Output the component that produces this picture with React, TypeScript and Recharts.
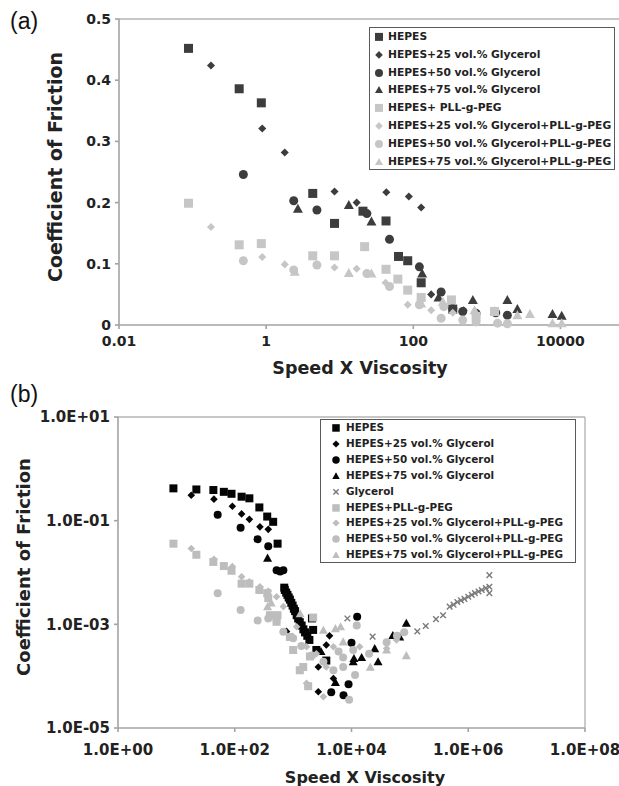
import React from 'react';
import { ScatterChart, Scatter, XAxis, YAxis, ReferenceLine, Legend } from 'recharts';

// ---------- panel (a): linear friction vs log speed*viscosity ----------
const hepesA = [[0.088, 0.452], [0.43, 0.386], [0.86, 0.363], [4.3, 0.215], [8.5, 0.166], [20.7, 0.186], [42.6, 0.17], [63, 0.112], [84, 0.105], [128, 0.069], [344, 0.026]];
const hepes25A = [[0.178, 0.424], [0.885, 0.321], [1.79, 0.282], [8.5, 0.218], [17, 0.2], [43, 0.217], [87, 0.21], [128, 0.192], [175, 0.05], [484, 0.024]];
const hepes50A = [[0.49, 0.246], [2.37, 0.203], [4.9, 0.188], [23.4, 0.182], [47.5, 0.14], [121, 0.095], [239, 0.054], [344, 0.027], [470, 0.022], [714, 0.019], [1320, 0.02], [1900, 0.016]];
const hepes75A = [[2.7, 0.19], [13.3, 0.196], [27, 0.169], [132, 0.084], [220, 0.045], [645, 0.041], [1900, 0.041], [2600, 0.026], [7800, 0.018], [10400, 0.015]];
const pllA = [[0.088, 0.199], [0.43, 0.131], [0.86, 0.133], [4.3, 0.113], [8.5, 0.113], [21.8, 0.128], [42.6, 0.091], [61.7, 0.075], [84, 0.057], [128, 0.045], [330, 0.041], [714, 0.014], [1270, 0.022]];
const pll25A = [[0.178, 0.16], [0.885, 0.111], [1.79, 0.099], [8.5, 0.094], [17, 0.092], [42, 0.069], [84, 0.033], [175, 0.024], [344, 0.02]];
const pll50A = [[0.49, 0.105], [2.37, 0.09], [4.9, 0.098], [23.4, 0.084], [47.5, 0.063], [121, 0.033], [239, 0.011], [260, 0.03], [470, 0.008], [714, 0.005], [1400, 0.003], [1900, 0.002]];
const pll75A = [[2.45, 0.087], [13.3, 0.085], [27, 0.084], [128, 0.035], [252, 0.038], [680, 0.024], [1270, 0.023], [2600, 0.016], [3850, 0.018], [7800, 0.003], [10400, 0.003]];

const xTicksA = [0.01, 1, 100, 10000];
const yTicksA = [0, 0.1, 0.2, 0.3, 0.4, 0.5];

// ---------- panel (b): log-log ----------
const hepesB = [[8.9, 0.42], [22, 0.4], [43, 0.39], [65, 0.36], [88, 0.33], [131, 0.29], [178, 0.27], [264, 0.18], [360, 0.12], [455, 0.095], [542, 0.036], [705, 0.0051], [720, 0.0046], [760, 0.0041], [800, 0.0037], [840, 0.0033], [880, 0.003], [930, 0.0026], [980, 0.0023], [1030, 0.002], [1080, 0.0018], [1150, 0.0015], [1220, 0.0013], [1300, 0.0011], [1400, 0.00095], [1500, 0.0008], [1600, 0.0007], [1750, 0.0006], [1900, 0.0005], [2100, 0.0013], [2200, 0.00078], [2500, 0.00032], [3700, 0.0002]];
const hepes25B = [[18, 0.31], [44, 0.26], [91, 0.19], [131, 0.135], [178, 0.106], [270, 0.076], [375, 0.068], [770, 0.00073], [2700, 0.00015], [2700, 0.00005], [3700, 0.0004], [4200, 0.0006], [4900, 0.00009]];
const hepes50B = [[51, 0.13], [126, 0.073], [246, 0.044], [375, 0.032], [521, 0.011], [600, 0.0105], [680, 0.011], [4500, 0.000049], [7300, 0.000043], [8900, 0.00007], [10000, 0.00044], [12500, 0.0014]];
const hepes75B = [[365, 0.019], [3000, 0.0003], [5300, 0.000076], [10700, 0.00019], [11000, 0.00022], [14900, 0.00023], [25000, 0.00034], [28500, 0.00019], [51000, 0.00061], [67000, 0.00057], [87000, 0.00105]];
const glycerolB = [[8500, 0.0013], [23000, 0.00058], [134000, 0.00073], [187000, 0.00093], [280000, 0.00126], [370000, 0.0015], [480000, 0.0022], [560000, 0.0024], [650000, 0.0027], [750000, 0.0029], [860000, 0.0031], [1000000, 0.0034], [1150000, 0.0037], [1300000, 0.004], [1500000, 0.0043], [1700000, 0.0046], [2000000, 0.005], [2300000, 0.0053], [2300000, 0.0089], [2300000, 0.004]];
const pllB = [[8.9, 0.036], [22, 0.022], [43, 0.016], [65, 0.0133], [88, 0.0108], [131, 0.0061], [178, 0.0061], [264, 0.0046], [360, 0.004], [375, 0.0032], [400, 0.0015], [520, 0.0012], [540, 0.0015], [880, 0.00057], [1000, 0.00032], [1300, 0.00013], [1490, 0.00015], [1810, 0.000064], [1940, 0.00024], [2200, 0.00135]];
const pll25B = [[18, 0.029], [44, 0.018], [91, 0.013], [131, 0.0083], [178, 0.0066], [270, 0.0053], [375, 0.0044], [520, 0.0034], [680, 0.0022], [1150, 0.0009], [1700, 0.00037], [1700, 0.000073], [2500, 0.00027], [3300, 0.00004], [3700, 0.00015], [4900, 0.00037], [13800, 0.00037], [40000, 0.00034], [59000, 0.0005]];
const pll50B = [[51, 0.004], [126, 0.0019], [246, 0.00118], [375, 0.0013], [521, 0.0012], [680, 0.00072], [1000, 0.00054], [1380, 0.00038], [2100, 0.00025], [3300, 0.00019], [4900, 0.00013], [6000, 0.0003], [7200, 0.00015], [7200, 0.00023], [9100, 0.000035], [10700, 0.00032], [11500, 0.000105], [12300, 0.00095], [20000, 0.00027], [40000, 0.00045], [60000, 0.0006], [80000, 0.0007]];
const pll75B = [[365, 0.0022], [420, 0.0026], [520, 0.0011], [1320, 0.0016], [3300, 0.00077], [5300, 0.00083], [6500, 0.0009], [7200, 0.00046], [21000, 0.00015], [40000, 0.00032], [87000, 0.00025]];

const xTicksB = [1, 100, 10000, 1000000, 100000000];
const yTicksB = [0.00001, 0.001, 0.1, 10];

const toPts = (arr: number[][]) => arr.map(([x, y]) => ({ x, y }));

const DARK_A = '#3d3d3d';
const LIGHT_A = '#c6c6c6';
const DARK_B = '#050505';
const LIGHT_B = '#bdbdbd';
const XMARK = '#7a7a7a';
const AXIS = '#a3a3a3';
const FONT = '"DejaVu Sans", Verdana, sans-serif';

const seriesA = [
  { name: 'HEPES', data: hepesA, kind: 'square', fill: DARK_A },
  { name: 'HEPES+25 vol.% Glycerol', data: hepes25A, kind: 'diamond', fill: DARK_A },
  { name: 'HEPES+50 vol.% Glycerol', data: hepes50A, kind: 'circle', fill: DARK_A },
  { name: 'HEPES+75 vol.% Glycerol', data: hepes75A, kind: 'triangle', fill: DARK_A },
  { name: 'HEPES+ PLL-g-PEG', data: pllA, kind: 'square', fill: LIGHT_A },
  { name: 'HEPES+25 vol.% Glycerol+PLL-g-PEG', data: pll25A, kind: 'diamond', fill: LIGHT_A },
  { name: 'HEPES+50 vol.% Glycerol+PLL-g-PEG', data: pll50A, kind: 'circle', fill: LIGHT_A },
  { name: 'HEPES+75 vol.% Glycerol+PLL-g-PEG', data: pll75A, kind: 'triangle', fill: LIGHT_A },
];

const seriesB = [
  { name: 'HEPES', data: hepesB, kind: 'square', fill: DARK_B },
  { name: 'HEPES+25 vol.% Glycerol', data: hepes25B, kind: 'diamond', fill: DARK_B },
  { name: 'HEPES+50 vol.% Glycerol', data: hepes50B, kind: 'circle', fill: DARK_B },
  { name: 'HEPES+75 vol.% Glycerol', data: hepes75B, kind: 'triangle', fill: DARK_B },
  { name: 'Glycerol', data: glycerolB, kind: 'x', fill: XMARK },
  { name: 'HEPES+PLL-g-PEG', data: pllB, kind: 'square', fill: LIGHT_B },
  { name: 'HEPES+25 vol.% Glycerol+PLL-g-PEG', data: pll25B, kind: 'diamond', fill: LIGHT_B },
  { name: 'HEPES+50 vol.% Glycerol+PLL-g-PEG', data: pll50B, kind: 'circle', fill: LIGHT_B },
  { name: 'HEPES+75 vol.% Glycerol+PLL-g-PEG', data: pll75B, kind: 'triangle', fill: LIGHT_B },
];

function marker(kind: string, cx: number, cy: number, s: number, fill: string) {
  const h = s / 2;
  switch (kind) {
    case 'square':
      return <rect x={cx - h} y={cy - h} width={s} height={s} fill={fill} />;
    case 'diamond': {
      const d = h * 0.95;
      return <polygon points={`${cx},${cy - d} ${cx + d},${cy} ${cx},${cy + d} ${cx - d},${cy}`} fill={fill} />;
    }
    case 'circle':
      return <circle cx={cx} cy={cy} r={h} fill={fill} />;
    case 'triangle':
      return <polygon points={`${cx},${cy - h} ${cx + h},${cy + h * 0.8} ${cx - h},${cy + h * 0.8}`} fill={fill} />;
    default: {
      const d = h * 0.7;
      return (
        <g stroke={fill} strokeWidth={1.4}>
          <line x1={cx - d} y1={cy - d} x2={cx + d} y2={cy + d} />
          <line x1={cx - d} y1={cy + d} x2={cx + d} y2={cy - d} />
        </g>
      );
    }
  }
}

const shapeFor = (kind: string, fill: string, size: number) => (p: any) => {
  if (p == null || p.cx == null || p.cy == null) return <g />;
  return marker(kind, p.cx, p.cy, size, fill);
};

const LegendBox = ({ items, width, height, rowH, markX, textX, fontSize, msize }: any) => (
  <div
    style={{
      width,
      height,
      boxSizing: 'border-box',
      border: '1px solid #5a5a5a',
      background: '#fff',
      position: 'relative',
      fontFamily: FONT,
      fontWeight: 'bold',
      fontSize,
      color: '#222',
    }}
  >
    {items.map((it: any, i: number) => (
      <div key={i} style={{ position: 'absolute', left: 0, top: i * rowH, height: rowH, width: '100%' }}>
        <svg width={14} height={rowH} style={{ position: 'absolute', left: markX - 7, top: 0 }}>
          {marker(it.kind, 7, rowH / 2, msize, it.fill)}
        </svg>
        <span style={{ position: 'absolute', left: textX, top: 0, lineHeight: `${rowH}px`, whiteSpace: 'nowrap' }}>
          {it.name}
        </span>
      </div>
    ))}
  </div>
);

const expFmt = (v: number) => {
  const e = Math.round(Math.log10(v));
  return '1.0E' + (e < 0 ? '-' : '+') + String(Math.abs(e)).padStart(2, '0');
};

const titleStyle = { fontFamily: FONT, fontWeight: 'bold', fill: '#222' } as const;

export default function App() {
  return (
    <div style={{ position: 'fixed', left: 0, top: 0, width: 619, height: 786, overflow: 'hidden', background: '#fff' }}>
      <div style={{ position: 'absolute', left: 10, top: 8, fontFamily: '"Liberation Sans", Arial, sans-serif', fontSize: 23, color: '#111' }}>(a)</div>
      <div style={{ position: 'absolute', left: 10, top: 381, fontFamily: '"Liberation Sans", Arial, sans-serif', fontSize: 23, color: '#111' }}>(b)</div>

      <div style={{ position: 'absolute', left: 0, top: 0 }}>
        <ScatterChart width={640} height={380} margin={{ top: 19, right: 6, bottom: 0, left: 0 }}>
          <XAxis
            type="number"
            dataKey="x"
            scale="log"
            domain={[0.01, 100000]}
            allowDataOverflow
            ticks={xTicksA}
            interval={0}
            height={55}
            stroke={AXIS}
            strokeWidth={1.6}
            tickSize={4}
            tickMargin={7}
            tick={{ fontSize: 14, fontWeight: 'bold', fill: '#222', fontFamily: FONT }}
            label={{
              content: () => (
                <text x={360} y={374} textAnchor="middle" fontSize={17.5} {...titleStyle}>
                  Speed X Viscosity
                </text>
              ),
            }}
          />
          <YAxis
            type="number"
            dataKey="y"
            domain={[0, 0.5]}
            ticks={yTicksA}
            interval={0}
            width={119}
            stroke={AXIS}
            strokeWidth={1.6}
            tickSize={4}
            tickMargin={4}
            tick={{ fontSize: 14, fontWeight: 'bold', fill: '#222', fontFamily: FONT }}
            label={{
              content: () => (
                <text x={55} y={167} transform="rotate(-90 55 167)" textAnchor="middle" dominantBaseline="central" fontSize={19} {...titleStyle}>
                  Coefficient of Friction
                </text>
              ),
            }}
          />
          <ReferenceLine y={0.5} stroke="#b5b5b5" strokeWidth={1.4} />
          {seriesA.map((s) => (
            <Scatter
              key={s.name}
              name={s.name}
              data={toPts(s.data)}
              fill={s.fill}
              shape={shapeFor(s.kind, s.fill, s.kind === 'diamond' ? 8.5 : s.kind === 'triangle' ? 10 : 9)}
              isAnimationActive={false}
            />
          ))}
          <Legend
            layout="vertical"
            align="center"
            verticalAlign="middle"
            wrapperStyle={{ left: 369, top: 27, width: 246, height: 143 }}
            content={() => (
              <LegendBox items={seriesA} width={246} height={143} rowH={17.8} markX={9} textX={18} fontSize={10.7} msize={8} />
            )}
          />
        </ScatterChart>
      </div>

      <div style={{ position: 'absolute', left: 0, top: 380 }}>
        <ScatterChart width={619} height={406} margin={{ top: 37, right: 34, bottom: 0, left: 0 }}>
          <XAxis
            type="number"
            dataKey="x"
            scale="log"
            domain={[1, 100000000]}
            allowDataOverflow
            ticks={xTicksB}
            interval={0}
            height={58}
            stroke={AXIS}
            strokeWidth={1.6}
            tickSize={4}
            tickMargin={12}
            tickFormatter={expFmt}
            tick={{ fontSize: 15, fontWeight: 'bold', fill: '#222', fontFamily: FONT }}
            label={{
              content: () => (
                <text x={365} y={403} textAnchor="middle" fontSize={16} {...titleStyle}>
                  Speed X Viscosity
                </text>
              ),
            }}
          />
          <YAxis
            type="number"
            dataKey="y"
            scale="log"
            domain={[0.00001, 10]}
            allowDataOverflow
            ticks={yTicksB}
            interval={0}
            width={118}
            stroke={AXIS}
            strokeWidth={1.6}
            tickSize={4}
            tickMargin={4}
            tickFormatter={expFmt}
            tick={{ fontSize: 15, fontWeight: 'bold', fill: '#222', fontFamily: FONT }}
            label={{
              content: () => (
                <text x={23} y={187} transform="rotate(-90 23 187)" textAnchor="middle" dominantBaseline="central" fontSize={18} {...titleStyle}>
                  Coefficient of Friction
                </text>
              ),
            }}
          />
          <ReferenceLine y={10} stroke="#b5b5b5" strokeWidth={1.4} />
          <ReferenceLine x={100000000} stroke="#b5b5b5" strokeWidth={1.4} />
          {seriesB.map((s) => (
            <Scatter
              key={s.name}
              name={s.name}
              data={toPts(s.data)}
              fill={s.fill}
              shape={shapeFor(s.kind, s.fill, s.kind === 'triangle' ? 9 : s.kind === 'x' ? 8 : 8)}
              isAnimationActive={false}
            />
          ))}
          <Legend
            layout="vertical"
            align="center"
            verticalAlign="middle"
            wrapperStyle={{ left: 320, top: 39, width: 256, height: 144 }}
            content={() => (
              <LegendBox items={seriesB} width={256} height={144} rowH={15.9} markX={15} textX={25} fontSize={10.4} msize={7.5} />
            )}
          />
        </ScatterChart>
      </div>
    </div>
  );
}
